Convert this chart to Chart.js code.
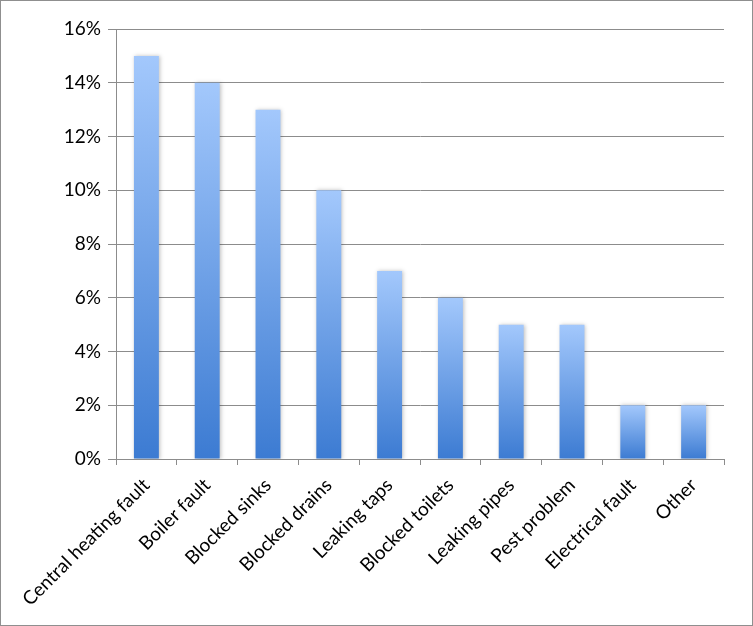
<!DOCTYPE html>
<html>
<head>
<meta charset="utf-8">
<script src="https://cdn.jsdelivr.net/npm/chart.js@4"></script>
<style>
  body { margin: 0; background: #fff; }
  #wrap { width: 751px; height: 624px; border: 1px solid #8f8f8f; position: relative; }
</style>
</head>
<body>
<div id="wrap"><canvas id="faultChart" width="751" height="624"></canvas></div>
<script>
const categories = [
    "Central heating fault", "Boiler fault", "Blocked sinks", "Blocked drains",
    "Leaking taps", "Blocked toilets", "Leaking pipes", "Pest problem",
    "Electrical fault", "Other"
];
const shares = [15, 14, 13, 10, 7, 6, 5, 5, 2, 2];
const yTicks = [0, 2, 4, 6, 8, 10, 12, 14, 16];

function barGradient(context) {
    const chart = context.chart;
    const { ctx, chartArea, scales } = chart;
    if (!chartArea || context.type !== "data") return "#6a9ee8";
    const v = context.raw;
    const top = scales.y.getPixelForValue(v);
    const bottom = scales.y.getPixelForValue(0);
    const g = ctx.createLinearGradient(0, top, 0, bottom);
    g.addColorStop(0, "#a3c8fc");
    g.addColorStop(1, "#3c7bd2");
    return g;
}

// soft shadow around the bars, like the spreadsheet look
const shadow = {
    id: "shadow",
    beforeDatasetsDraw(chart) {
        const ctx = chart.ctx;
        ctx.save();
        ctx.shadowColor = "rgba(0,0,0,0.25)";
        ctx.shadowBlur = 4;
        ctx.shadowOffsetX = 1;
        ctx.shadowOffsetY = 0;
    },
    afterDatasetsDraw(chart) {
        chart.ctx.restore();
    }
};

const ctx = document.getElementById("faultChart").getContext("2d");

new Chart(ctx, {
    type: "bar",
    data: {
        labels: categories,
        datasets: [{
            data: shares,
            backgroundColor: barGradient,
            borderWidth: 0,
            barPercentage: 0.41,
            categoryPercentage: 1
        }]
    },
    options: {
        responsive: false,
        animation: false,
        layout: { padding: { top: 28, right: 28, left: 0, bottom: 0 } },
        plugins: {
            legend: { display: false },
            tooltip: { enabled: false }
        },
        scales: {
            x: {
                afterFit(scale) { scale.height = 166; },
                grid: {
                    drawOnChartArea: false,
                    color: "#8c8c8c",
                    tickLength: 6
                },
                border: { color: "#8c8c8c", width: 1 },
                ticks: {
                    color: "#000",
                    font: { family: "Lato", size: 19 },
                    minRotation: 45,
                    maxRotation: 45,
                    autoSkip: false,
                    padding: 9
                }
            },
            y: {
                min: 0,
                max: 16,
                afterBuildTicks(scale) {
                    scale.ticks = yTicks.map(v => ({ value: v }));
                },
                afterFit(scale) { scale.width = 115; },
                grid: {
                    color: "#8c8c8c",
                    tickLength: 8
                },
                border: { color: "#8c8c8c", width: 1 },
                ticks: {
                    color: "#000",
                    font: { family: "Lato", size: 19 },
                    padding: 7,
                    callback: v => v + "%"
                }
            }
        }
    },
    plugins: [shadow]
});
</script>
</body>
</html>
